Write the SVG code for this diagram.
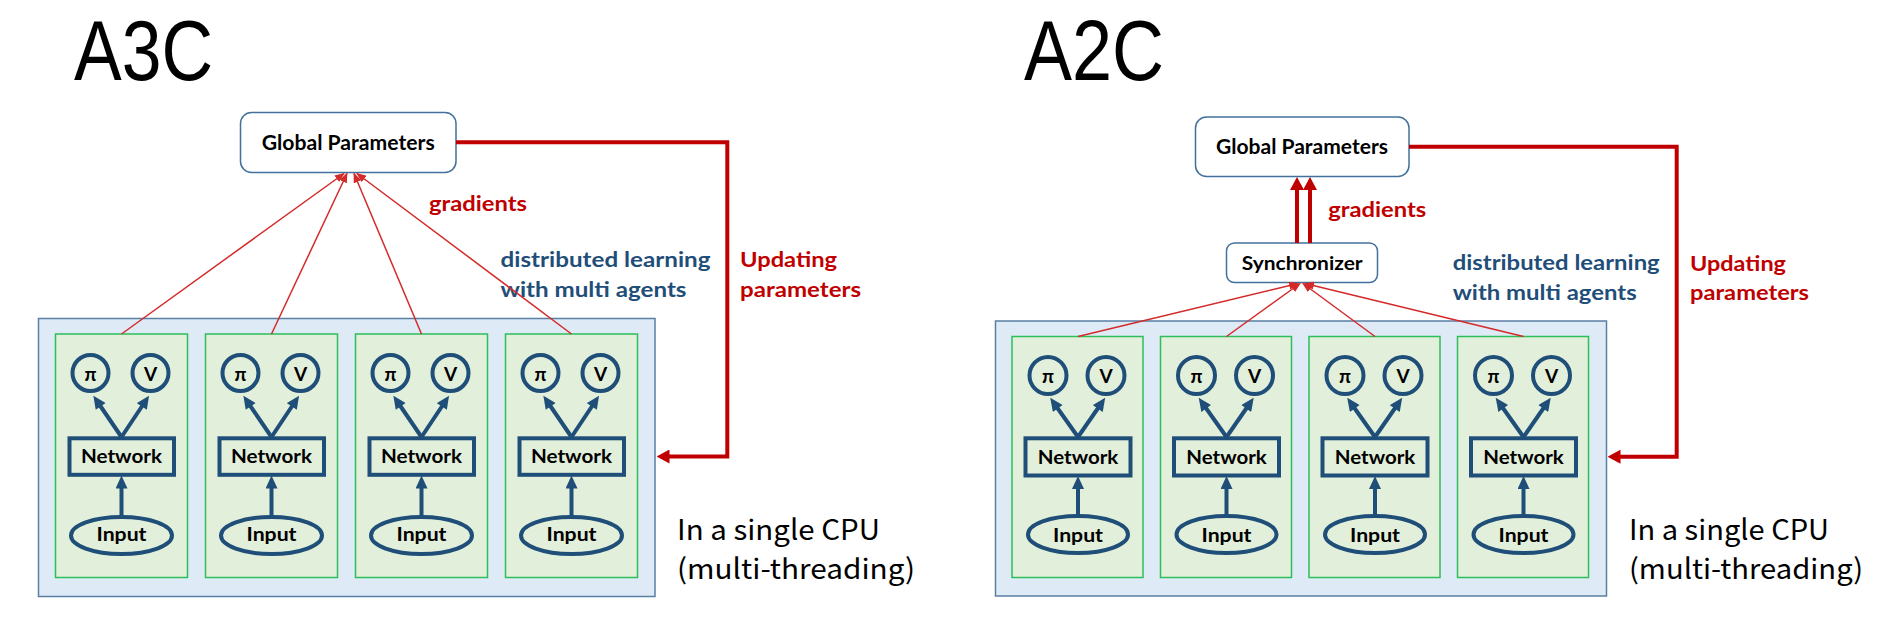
<svg xmlns="http://www.w3.org/2000/svg" width="1888" height="637" viewBox="0 0 1888 637">
<defs>
<style>
.title{font-family:"Liberation Sans",Arial,sans-serif;font-weight:400;font-size:86px;fill:#000}
.note{font-family:"Noto Sans CJK JP","Noto Sans",sans-serif;font-weight:400;font-size:28px;fill:#000}
.lbl{font-family:Lato,"Noto Sans","DejaVu Sans",sans-serif;font-weight:700;fill:#000}
.red{font-family:Lato,"Noto Sans",sans-serif;font-weight:700;font-size:21px;fill:#C00000}
.blue{font-family:Lato,"Noto Sans",sans-serif;font-weight:700;font-size:21px;fill:#1F4E79}
.gp{fill:#fff;stroke:#41719C;stroke-width:1.5}
.outer{fill:#DEEBF7;stroke:#5A7FA5;stroke-width:1.5}
.panel{fill:#E2EFDA;stroke:#2DBE5A;stroke-width:1.5}
.bshape{fill:none;stroke:#1F4E79;stroke-width:4}
.barrow{fill:none;stroke:#1F4E79;stroke-width:4;marker-end:url(#mb)}
.thin{fill:none;stroke:#D42A2A;stroke-width:1.5;marker-end:url(#mt)}
.thick{fill:none;stroke:#C00000;stroke-width:4;marker-end:url(#mr)}
</style>
<marker id="mb" markerUnits="userSpaceOnUse" markerWidth="14" markerHeight="12" viewBox="0 0 13 12" refX="3" refY="6" orient="auto"><path d="M0,0 L13,6 L0,12 z" fill="#1F4E79"/></marker>
<marker id="mt" markerUnits="userSpaceOnUse" markerWidth="10" markerHeight="8" viewBox="0 0 10 8" refX="9" refY="4" orient="auto"><path d="M0,0 L10,4 L0,8 z" fill="#D42A2A"/></marker>
<marker id="mr" markerUnits="userSpaceOnUse" markerWidth="13" markerHeight="14" viewBox="0 0 13 14" refX="3" refY="7" orient="auto"><path d="M0,0 L13,7 L0,14 z" fill="#C00000"/></marker>
</defs>
<rect width="1888" height="637" fill="#fff"/>

<text class="title" x="74" y="80" textLength="139" lengthAdjust="spacingAndGlyphs">A3C</text>
<text class="title" x="1024" y="80" textLength="140" lengthAdjust="spacingAndGlyphs">A2C</text>

<g id="a3c-global">
<rect class="gp" x="240.5" y="112.5" width="215.5" height="60" rx="11"/>
<text class="lbl" x="261.7" y="150" font-size="20" textLength="173" lengthAdjust="spacingAndGlyphs">Global Parameters</text>
</g>

<g id="a3c-cpu">
<rect class="outer" x="38.5" y="318.5" width="616.5" height="278"/>
<text class="note" x="677" y="540" textLength="203" lengthAdjust="spacingAndGlyphs">In a single CPU</text>
<text class="note" x="677" y="579" textLength="238" lengthAdjust="spacingAndGlyphs">(multi-threading)</text>
</g>

<g id="a3c-agent1">
<rect class="panel" x="55.5" y="334" width="132" height="243.5"/>
<circle class="bshape" cx="90.5" cy="373" r="18"/><text class="lbl" x="90.5" y="381" font-size="19" text-anchor="middle">π</text>
<circle class="bshape" cx="150.5" cy="373" r="18"/><text class="lbl" x="150.5" y="381" font-size="19" text-anchor="middle">V</text>
<rect class="bshape" x="69.5" y="438.3" width="104.5" height="36.5"/><text class="lbl" x="121.5" y="463" font-size="19.5" text-anchor="middle" textLength="81" lengthAdjust="spacingAndGlyphs">Network</text>
<ellipse class="bshape" cx="121.5" cy="535.5" rx="50.5" ry="18.5"/><text class="lbl" x="121.5" y="541" font-size="18.5" text-anchor="middle" textLength="50" lengthAdjust="spacingAndGlyphs">Input</text>
</g>
<g id="a3c-agent2">
<rect class="panel" x="205.5" y="334" width="132" height="243.5"/>
<circle class="bshape" cx="240.5" cy="373" r="18"/><text class="lbl" x="240.5" y="381" font-size="19" text-anchor="middle">π</text>
<circle class="bshape" cx="300.5" cy="373" r="18"/><text class="lbl" x="300.5" y="381" font-size="19" text-anchor="middle">V</text>
<rect class="bshape" x="219.5" y="438.3" width="104.5" height="36.5"/><text class="lbl" x="271.5" y="463" font-size="19.5" text-anchor="middle" textLength="81" lengthAdjust="spacingAndGlyphs">Network</text>
<ellipse class="bshape" cx="271.5" cy="535.5" rx="50.5" ry="18.5"/><text class="lbl" x="271.5" y="541" font-size="18.5" text-anchor="middle" textLength="50" lengthAdjust="spacingAndGlyphs">Input</text>
</g>
<g id="a3c-agent3">
<rect class="panel" x="355.5" y="334" width="132" height="243.5"/>
<circle class="bshape" cx="390.5" cy="373" r="18"/><text class="lbl" x="390.5" y="381" font-size="19" text-anchor="middle">π</text>
<circle class="bshape" cx="450.5" cy="373" r="18"/><text class="lbl" x="450.5" y="381" font-size="19" text-anchor="middle">V</text>
<rect class="bshape" x="369.5" y="438.3" width="104.5" height="36.5"/><text class="lbl" x="421.5" y="463" font-size="19.5" text-anchor="middle" textLength="81" lengthAdjust="spacingAndGlyphs">Network</text>
<ellipse class="bshape" cx="421.5" cy="535.5" rx="50.5" ry="18.5"/><text class="lbl" x="421.5" y="541" font-size="18.5" text-anchor="middle" textLength="50" lengthAdjust="spacingAndGlyphs">Input</text>
</g>
<g id="a3c-agent4">
<rect class="panel" x="505.5" y="334" width="132" height="243.5"/>
<circle class="bshape" cx="540.5" cy="373" r="18"/><text class="lbl" x="540.5" y="381" font-size="19" text-anchor="middle">π</text>
<circle class="bshape" cx="600.5" cy="373" r="18"/><text class="lbl" x="600.5" y="381" font-size="19" text-anchor="middle">V</text>
<rect class="bshape" x="519.5" y="438.3" width="104.5" height="36.5"/><text class="lbl" x="571.5" y="463" font-size="19.5" text-anchor="middle" textLength="81" lengthAdjust="spacingAndGlyphs">Network</text>
<ellipse class="bshape" cx="571.5" cy="535.5" rx="50.5" ry="18.5"/><text class="lbl" x="571.5" y="541" font-size="18.5" text-anchor="middle" textLength="50" lengthAdjust="spacingAndGlyphs">Input</text>
</g>

<g id="a3c-labels">
<text class="red" x="429" y="211" textLength="98" lengthAdjust="spacingAndGlyphs">gradients</text>
<text class="blue" x="500.5" y="266.5" textLength="210" lengthAdjust="spacingAndGlyphs">distributed learning</text>
<text class="blue" x="500.5" y="296.5" textLength="186" lengthAdjust="spacingAndGlyphs">with multi agents</text>
<text class="red" x="740" y="266.5" textLength="97" lengthAdjust="spacingAndGlyphs">Updating</text>
<text class="red" x="740" y="296.5" textLength="121" lengthAdjust="spacingAndGlyphs">parameters</text>
</g>

<g id="a2c-global">
<rect class="gp" x="1195.5" y="117" width="213.5" height="59.5" rx="11"/>
<text class="lbl" x="1216" y="154" font-size="20" textLength="172" lengthAdjust="spacingAndGlyphs">Global Parameters</text>
</g>
<g id="a2c-sync">
<rect class="gp" x="1226.5" y="243" width="151" height="39.5" rx="8"/>
<text class="lbl" x="1241.7" y="270" font-size="18.5" textLength="121" lengthAdjust="spacingAndGlyphs">Synchronizer</text>
</g>

<g id="a2c-cpu">
<rect class="outer" x="995.5" y="321" width="611" height="275"/>
<text class="note" x="1629" y="539.5" textLength="200" lengthAdjust="spacingAndGlyphs">In a single CPU</text>
<text class="note" x="1629" y="579" textLength="234" lengthAdjust="spacingAndGlyphs">(multi-threading)</text>
</g>

<g id="a2c-agent1">
<rect class="panel" x="1012" y="336.5" width="131" height="241"/>
<circle class="bshape" cx="1048" cy="375.5" r="18.5"/><text class="lbl" x="1048" y="382.5" font-size="19" text-anchor="middle">π</text>
<circle class="bshape" cx="1106" cy="375.5" r="18.5"/><text class="lbl" x="1106" y="382.5" font-size="19" text-anchor="middle">V</text>
<rect class="bshape" x="1025.5" y="438.3" width="105" height="37.2"/><text class="lbl" x="1078" y="464" font-size="19.5" text-anchor="middle" textLength="80.5" lengthAdjust="spacingAndGlyphs">Network</text>
<ellipse class="bshape" cx="1078" cy="534.5" rx="50" ry="18.5"/><text class="lbl" x="1078" y="541.5" font-size="18.5" text-anchor="middle" textLength="50" lengthAdjust="spacingAndGlyphs">Input</text>
</g>
<g id="a2c-agent2">
<rect class="panel" x="1160.5" y="336.5" width="131" height="241"/>
<circle class="bshape" cx="1196.5" cy="375.5" r="18.5"/><text class="lbl" x="1196.5" y="382.5" font-size="19" text-anchor="middle">π</text>
<circle class="bshape" cx="1254.5" cy="375.5" r="18.5"/><text class="lbl" x="1254.5" y="382.5" font-size="19" text-anchor="middle">V</text>
<rect class="bshape" x="1174" y="438.3" width="105" height="37.2"/><text class="lbl" x="1226.5" y="464" font-size="19.5" text-anchor="middle" textLength="80.5" lengthAdjust="spacingAndGlyphs">Network</text>
<ellipse class="bshape" cx="1226.5" cy="534.5" rx="50" ry="18.5"/><text class="lbl" x="1226.5" y="541.5" font-size="18.5" text-anchor="middle" textLength="50" lengthAdjust="spacingAndGlyphs">Input</text>
</g>
<g id="a2c-agent3">
<rect class="panel" x="1309" y="336.5" width="131" height="241"/>
<circle class="bshape" cx="1345" cy="375.5" r="18.5"/><text class="lbl" x="1345" y="382.5" font-size="19" text-anchor="middle">π</text>
<circle class="bshape" cx="1403" cy="375.5" r="18.5"/><text class="lbl" x="1403" y="382.5" font-size="19" text-anchor="middle">V</text>
<rect class="bshape" x="1322.5" y="438.3" width="105" height="37.2"/><text class="lbl" x="1375" y="464" font-size="19.5" text-anchor="middle" textLength="80.5" lengthAdjust="spacingAndGlyphs">Network</text>
<ellipse class="bshape" cx="1375" cy="534.5" rx="50" ry="18.5"/><text class="lbl" x="1375" y="541.5" font-size="18.5" text-anchor="middle" textLength="50" lengthAdjust="spacingAndGlyphs">Input</text>
</g>
<g id="a2c-agent4">
<rect class="panel" x="1457.5" y="336.5" width="131" height="241"/>
<circle class="bshape" cx="1493.5" cy="375.5" r="18.5"/><text class="lbl" x="1493.5" y="382.5" font-size="19" text-anchor="middle">π</text>
<circle class="bshape" cx="1551.5" cy="375.5" r="18.5"/><text class="lbl" x="1551.5" y="382.5" font-size="19" text-anchor="middle">V</text>
<rect class="bshape" x="1471" y="438.3" width="105" height="37.2"/><text class="lbl" x="1523.5" y="464" font-size="19.5" text-anchor="middle" textLength="80.5" lengthAdjust="spacingAndGlyphs">Network</text>
<ellipse class="bshape" cx="1523.5" cy="534.5" rx="50" ry="18.5"/><text class="lbl" x="1523.5" y="541.5" font-size="18.5" text-anchor="middle" textLength="50" lengthAdjust="spacingAndGlyphs">Input</text>
</g>

<g id="a2c-labels">
<text class="red" x="1328.3" y="216.5" textLength="98" lengthAdjust="spacingAndGlyphs">gradients</text>
<text class="blue" x="1452.7" y="270" textLength="207" lengthAdjust="spacingAndGlyphs">distributed learning</text>
<text class="blue" x="1452.7" y="300" textLength="184" lengthAdjust="spacingAndGlyphs">with multi agents</text>
<text class="red" x="1690" y="271" textLength="96" lengthAdjust="spacingAndGlyphs">Updating</text>
<text class="red" x="1690" y="300" textLength="119" lengthAdjust="spacingAndGlyphs">parameters</text>
</g>

<g id="connectors">
<path class="thin" d="M121.5,334 L344,173.5"/>
<path class="thin" d="M271.5,334 L347,173.5"/>
<path class="thin" d="M421.5,334 L354,173.5"/>
<path class="thin" d="M571.5,334 L357,173.5"/>
<path class="thick" d="M456,142.3 H727.3 V456.5 H666.5"/>
<path class="thin" d="M1078,336.5 L1298,283.5"/>
<path class="thin" d="M1226.5,336.5 L1300,283.5"/>
<path class="thin" d="M1375,336.5 L1303,283.5"/>
<path class="thin" d="M1523.5,336.5 L1305,283.5"/>
<path class="thick" d="M1297,243 V187"/>
<path class="thick" d="M1310,243 V187"/>
<path class="thick" d="M1409,146.7 H1676.7 V456.7 H1617.5"/>
<path class="barrow" d="M121.5,437 L99,404"/><path class="barrow" d="M121.5,437 L143.5,404"/><path class="barrow" d="M121.5,516 V485.5"/>
<path class="barrow" d="M271.5,437 L249,404"/><path class="barrow" d="M271.5,437 L293.5,404"/><path class="barrow" d="M271.5,516 V485.5"/>
<path class="barrow" d="M421.5,437 L399,404"/><path class="barrow" d="M421.5,437 L443.5,404"/><path class="barrow" d="M421.5,516 V485.5"/>
<path class="barrow" d="M571.5,437 L549,404"/><path class="barrow" d="M571.5,437 L593.5,404"/><path class="barrow" d="M571.5,516 V485.5"/>
<path class="barrow" d="M1078,437 L1056,406"/><path class="barrow" d="M1078,437 L1099.5,406"/><path class="barrow" d="M1078,515 V486"/>
<path class="barrow" d="M1226.5,437 L1204.5,406"/><path class="barrow" d="M1226.5,437 L1248,406"/><path class="barrow" d="M1226.5,515 V486"/>
<path class="barrow" d="M1375,437 L1353,406"/><path class="barrow" d="M1375,437 L1396.5,406"/><path class="barrow" d="M1375,515 V486"/>
<path class="barrow" d="M1523.5,437 L1501.5,406"/><path class="barrow" d="M1523.5,437 L1545,406"/><path class="barrow" d="M1523.5,515 V486"/>
</g>
</svg>
